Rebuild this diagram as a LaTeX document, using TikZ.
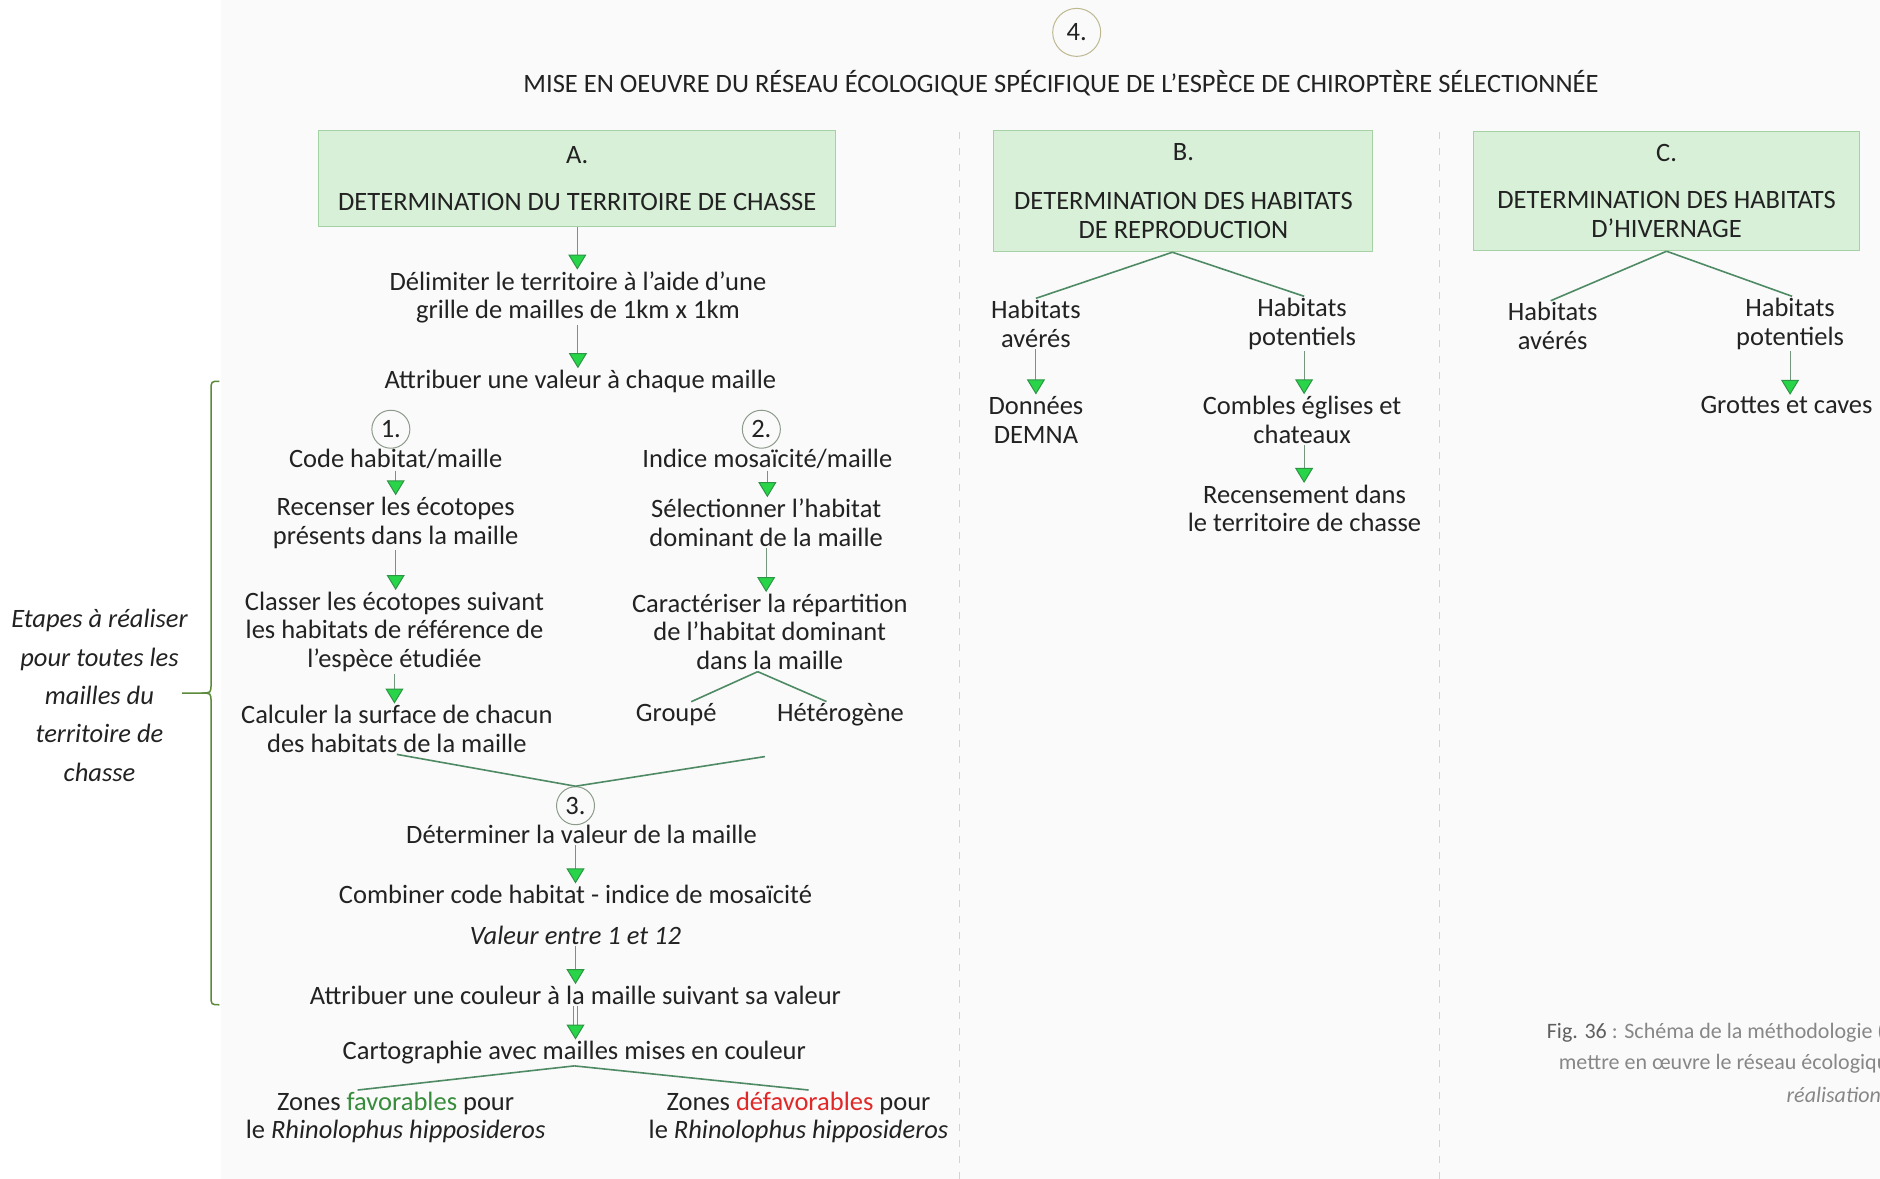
\documentclass[tikz,border=0pt]{standalone}
\usepackage{fontspec}
\setmainfont{Carlito}
\usetikzlibrary{positioning, arrows.meta}

\definecolor{panel}{RGB}{250,250,250}
\definecolor{ink}{RGB}{34,34,34}
\definecolor{boxfill}{RGB}{216,240,216}
\definecolor{boxline}{RGB}{165,210,165}
\definecolor{treeline}{RGB}{78,138,100}
\definecolor{arrline}{RGB}{115,150,125}
\definecolor{tipfill}{RGB}{40,212,72}
\definecolor{tipline}{RGB}{45,150,70}
\definecolor{sepline}{RGB}{205,218,190}
\definecolor{bracecol}{RGB}{90,138,58}
\definecolor{numline}{RGB}{140,155,140}
\definecolor{numtan}{RGB}{190,184,145}
\definecolor{favgreen}{RGB}{55,140,60}
\definecolor{defred}{RGB}{225,40,40}
\definecolor{capgray}{RGB}{135,135,135}
\definecolor{capdark}{RGB}{95,95,95}

\begin{document}
\begin{tikzpicture}[x=1.199pt, y=-1.199pt,
    >={Triangle[width=18pt, length=15pt, fill=tipfill, color=tipline]},
    txt/.style={align=center, inner sep=1.5pt, text=ink,
      font=\fontsize{26.5}{28.8}\selectfont},
    hdbox/.style={txt, draw=boxline, fill=boxfill, line width=1pt},
    num/.style={txt, circle, draw=numline, line width=1pt,
      minimum size=38pt, inner sep=0pt},
    arr/.style={->, draw=arrline, line width=1pt},
    branch/.style={draw=treeline, line width=1.6pt},
    sep/.style={draw=sepline, line width=1pt, dash pattern=on 7pt off 9pt},
    capline/.style={anchor=west, inner sep=0pt, text=capgray,
      font=\fontsize{22}{26}\selectfont}]

  % page and panel
  \useasboundingbox (0,0) rectangle (1568,983);
  \fill[white] (0,0) rectangle (1568,983);
  \fill[panel] (184,0) rectangle (1568,983);

  % heading
  \node[num, minimum size=48pt, draw=numtan] (n4) at (898,27) {4.};
  \node[txt] (title) at (885,69) {MISE EN OEUVRE DU RÉSEAU ÉCOLOGIQUE SPÉCIFIQUE DE L’ESPÈCE DE CHIROPTÈRE SÉLECTIONNÉE};

  % column separators
  \draw[sep] (800,110) -- (800,983);
  \draw[sep] (1201,110) -- (1201,983);

  % A. territoire de chasse
  \node[hdbox, minimum width=517pt, minimum height=96pt] (boxA) at (481.5,149)
    {A.\\[18pt]DETERMINATION DU TERRITOIRE DE CHASSE};
  \node[txt] (delim) at (482,248) {Délimiter le territoire à l’aide d’une\\grille de mailles de 1km x 1km};
  \node[txt] (attr) at (484,318) {Attribuer une valeur à chaque maille};

  \node[num] (n1) at (326,358) {1.};
  \node[txt] (code) at (330,383) {Code habitat/maille};
  \node[txt] (recens) at (330,436) {Recenser les écotopes\\présents dans la maille};
  \node[txt] (classer) at (329,527) {Classer les écotopes suivant\\les habitats de référence de\\l’espèce étudiée};
  \node[txt] (calc) at (331,608) {Calculer la surface de chacun\\des habitats de la maille};

  \node[num] (n2) at (635,358) {2.};
  \node[txt] (indice) at (640,383) {Indice mosaïcité/maille};
  \node[txt] (select) at (639,436) {Sélectionner l’habitat\\dominant de la maille};
  \node[txt] (caract) at (642,527) {Caractériser la répartition\\de l’habitat dominant\\dans la maille};
  \node[txt] (groupe) at (564,596) {Groupé};
  \node[txt] (hetero) at (701,596) {Hétérogène};
  \coordinate (repend) at (638,631);

  \node[num] (n3) at (480,672) {3.};
  \node[txt] (detval) at (485,696) {Déterminer la valeur de la maille};
  \node[txt] (combine) at (480,746) {Combiner code habitat - indice de mosaïcité};
  \node[txt, font=\itshape\fontsize{26.5}{28.8}\selectfont] (valeur) at (480,780) {Valeur entre 1 et 12};
  \node[txt] (attcoul) at (480,830) {Attribuer une couleur à la maille suivant sa valeur};
  \node[txt] (carto) at (479,878) {Cartographie avec mailles mises en couleur};
  \node[txt] (zfav) at (330,932) {Zones \textcolor{favgreen}{favorables} pour\\le \textit{Rhinolophus hipposideros}};
  \node[txt] (zdef) at (666,932) {Zones \textcolor{defred}{défavorables} pour\\le \textit{Rhinolophus hipposideros}};

  \draw[arr] (boxA.south) -- (boxA.south |- delim.north);
  \draw[arr] (delim.south) -- (delim.south |- attr.north);
  \draw[arr] (code.south) -- (code.south |- recens.north);
  \draw[arr] (recens.south) -- (recens.south |- classer.north);
  \draw[arr] (classer.south) -- (classer.south |- calc.north);
  \draw[arr] (indice.south) -- (indice.south |- select.north);
  \draw[arr] (select.south) -- (select.south |- caract.north);
  \draw[branch] ([xshift=-12pt]caract.south) -- ([xshift=15pt]groupe.north);
  \draw[branch] ([xshift=-12pt]caract.south) -- ([xshift=-14pt]hetero.north);
  \draw[branch] (calc.south) -- (n3.north);
  \draw[branch] (repend) -- (n3.north);
  \draw[arr] (combine.north |- detval.south) -- (combine.north);
  \draw[arr] (valeur.south) -- (valeur.south |- attcoul.north);
  \draw[arr, double=panel, double distance=2.5pt] (attcoul.south) -- (attcoul.south |- carto.north);
  \draw[branch] (carto.south) -- ([xshift=-38pt]zfav.north);
  \draw[branch] (carto.south) -- ([xshift=10pt]zdef.north);

  % brace and its label
  \draw[bracecol, line width=1.5pt] (183,318) .. controls (176,318) .. (176,326) -- (176,570)
    .. controls (176,578) .. (168,578) -- (152,578);
  \draw[bracecol, line width=1.5pt] (183,838) .. controls (176,838) .. (176,830) -- (176,586)
    .. controls (176,578) .. (168,578);
  \node[txt, font=\itshape\fontsize{26.5}{38.4}\selectfont] (etapes) at (83,580)
    {Etapes à réaliser\\pour toutes les\\mailles du\\territoire de\\chasse};

  % B. reproduction
  \node[hdbox, minimum width=379pt, minimum height=121pt] (boxB) at (987,159.5)
    {B.\\[20pt]DETERMINATION DES HABITATS\\DE REPRODUCTION};
  \node[txt] (avB) at (864,270) {Habitats\\avérés};
  \node[txt] (potB) at (1086,270) {Habitats\\potentiels};
  \node[txt] (demna) at (864,350) {Données\\DEMNA};
  \node[txt] (combles) at (1086,350) {Combles églises et\\chateaux};
  \node[txt] (recB) at (1088,424) {Recensement dans\\le territoire de chasse};

  \draw[branch] ([xshift=-11pt]boxB.south) -- (avB.north);
  \draw[branch] ([xshift=-11pt]boxB.south) -- ([xshift=2pt]potB.north);
  \draw[arr] (avB.south) -- (avB.south |- demna.north);
  \draw[arr] ([xshift=2pt]potB.south) -- ([xshift=2pt]potB.south |- combles.north);
  \draw[arr] ([xshift=2pt]combles.south) -- ([xshift=2pt]combles.south |- recB.north);

  % C. hivernage
  \node[hdbox, minimum width=386pt, minimum height=119pt] (boxC) at (1390,159.5)
    {C.\\[18pt]DETERMINATION DES HABITATS\\D’HIVERNAGE};
  \node[txt] (avC) at (1295,272) {Habitats\\avérés};
  \node[txt] (potC) at (1493,270) {Habitats\\potentiels};
  \node[txt] (grottes) at (1490,338) {Grottes et caves};

  \draw[branch] (boxC.south) -- ([xshift=-2pt]avC.north);
  \draw[branch] (boxC.south) -- ([xshift=2pt]potC.north);
  \draw[arr] (potC.south) -- (potC.south |- grottes.north);

  % caption
  \node[capline] (cap1) at (1290,861) {\textcolor{capdark}{Fig. 36} : Schéma de la méthodologie (};
  \node[capline] (cap2) at (1300,887) {mettre en œuvre le réseau écologique};
  \node[capline, font=\itshape\fontsize{22}{26}\selectfont] (cap3) at (1490,913) {réalisation};
\end{tikzpicture}
\end{document}
